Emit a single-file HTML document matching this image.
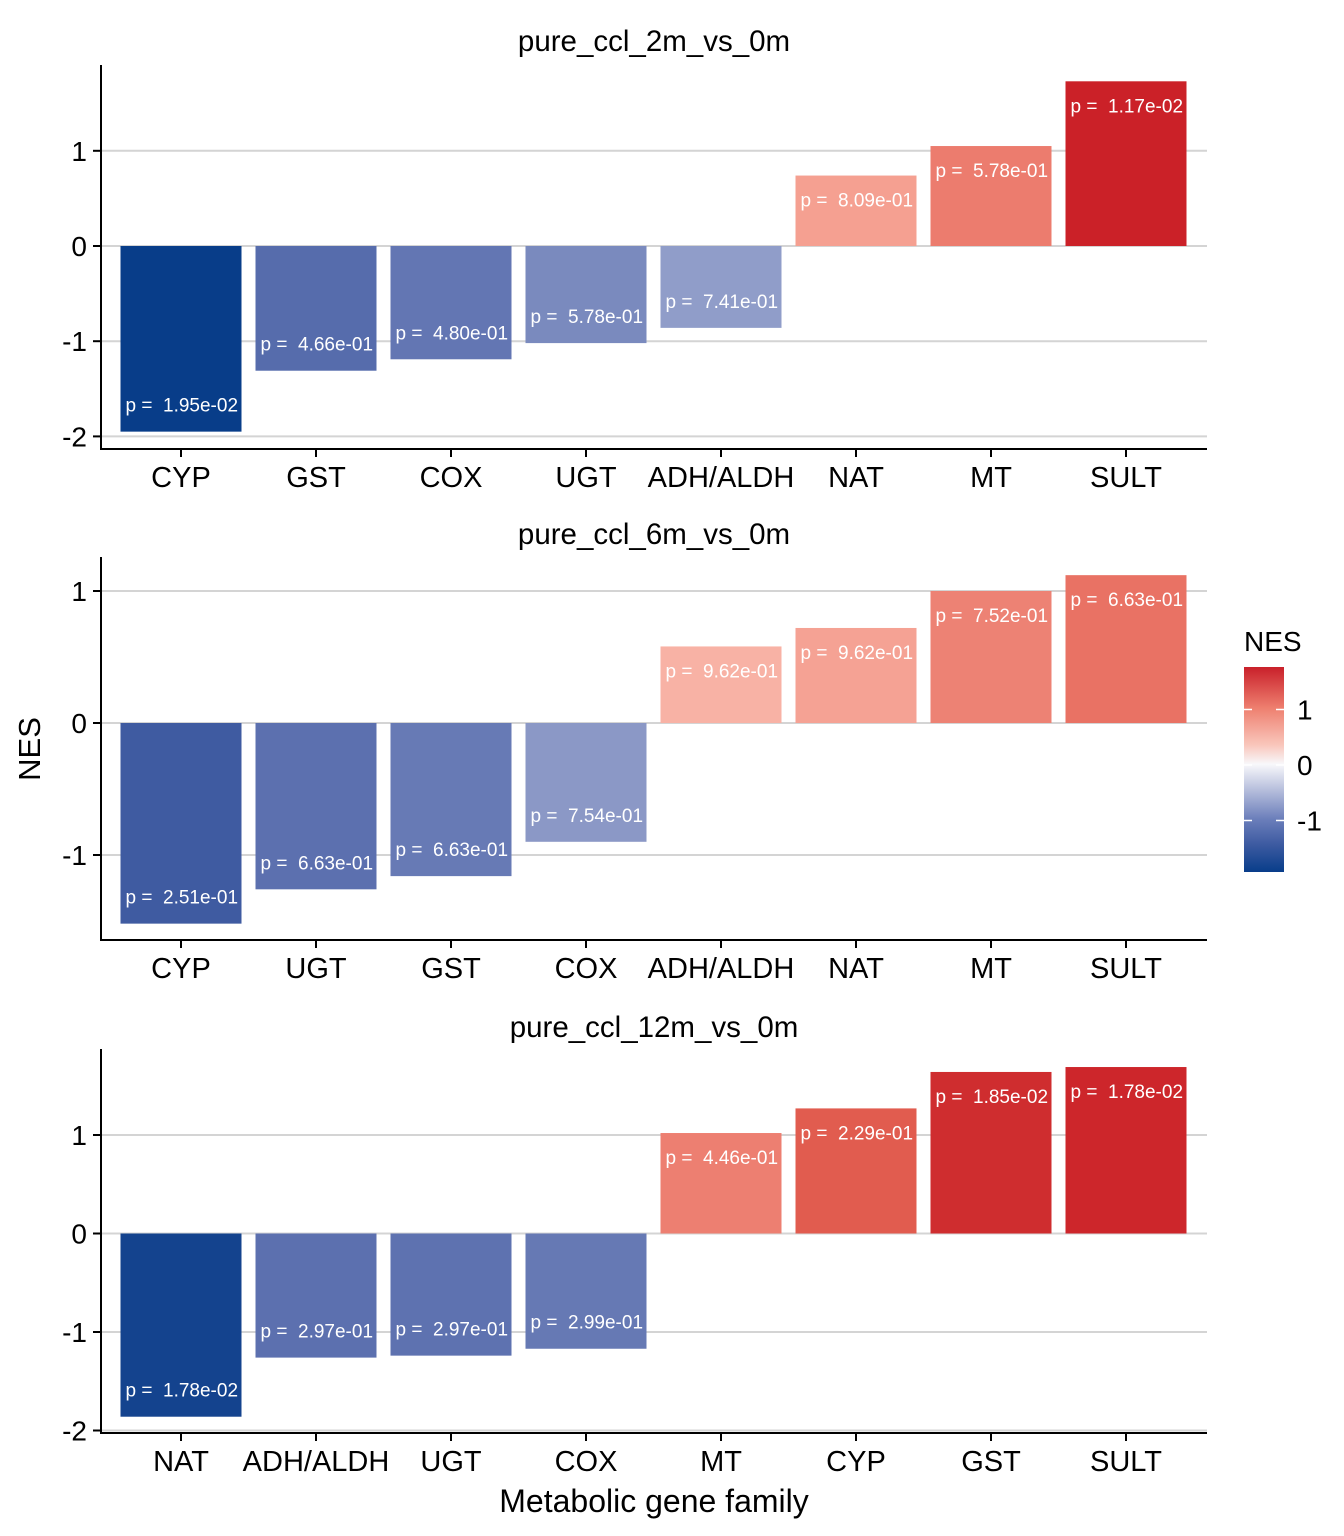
<!DOCTYPE html>
<html><head><meta charset="utf-8"><style>
html,body{margin:0;padding:0;background:#fff}
svg{display:block;font-family:"Liberation Sans",Arial,sans-serif}
text{white-space:pre}
</style></head><body>
<svg id="chart" width="1344" height="1536" viewBox="0 0 1344 1536" xmlns="http://www.w3.org/2000/svg">
<defs>
<linearGradient id="lg" x1="0" y1="1" x2="0" y2="0">
<stop offset="0" stop-color="#083d8a"/>
<stop offset="0.14" stop-color="#3f5ca2"/>
<stop offset="0.26" stop-color="#6c7fbb"/>
<stop offset="0.40" stop-color="#b6bedc"/>
<stop offset="0.526" stop-color="#f8f8fb"/>
<stop offset="0.62" stop-color="#f9c6bb"/>
<stop offset="0.80" stop-color="#ee7f6f"/>
<stop offset="1" stop-color="#c9202a"/>
</linearGradient>
</defs>
<g id="panels"></g>
<text x="32" y="749" font-size="31" text-anchor="middle" transform="rotate(-90 32 749)" dominant-baseline="middle">NES</text>
<text x="654" y="1512" font-size="32" text-anchor="middle">Metabolic gene family</text>
<g>
<text x="1244" y="651" font-size="28">NES</text>
<rect x="1244" y="667" width="40" height="205" fill="url(#lg)"/>
<g id="legticks"></g>
</g>
</svg>
<script>
const panelTitles = ["pure_ccl_2m_vs_0m","pure_ccl_6m_vs_0m","pure_ccl_12m_vs_0m"];
const categories1 = ["CYP","GST","COX","UGT","ADH/ALDH","NAT","MT","SULT"];
const values1 = [-1.95,-1.31,-1.19,-1.02,-0.86,0.74,1.05,1.73];
const pvals1 = ["1.95e-02","4.66e-01","4.80e-01","5.78e-01","7.41e-01","8.09e-01","5.78e-01","1.17e-02"];
const categories2 = ["CYP","UGT","GST","COX","ADH/ALDH","NAT","MT","SULT"];
const values2 = [-1.52,-1.26,-1.16,-0.90,0.58,0.72,1.00,1.12];
const pvals2 = ["2.51e-01","6.63e-01","6.63e-01","7.54e-01","9.62e-01","9.62e-01","7.52e-01","6.63e-01"];
const categories3 = ["NAT","ADH/ALDH","UGT","COX","MT","CYP","GST","SULT"];
const values3 = [-1.86,-1.26,-1.24,-1.17,1.02,1.27,1.64,1.69];
const pvals3 = ["1.78e-02","2.97e-01","2.97e-01","2.99e-01","4.46e-01","2.29e-01","1.85e-02","1.78e-02"];
const ticks1 = [-2,-1,0,1];
const ticks2 = [-1,0,1];
const ticks3 = [-2,-1,0,1];
const legendTicks = [-1,0,1];

const NS="http://www.w3.org/2000/svg";
function mk(tag,attrs,parent){const e=document.createElementNS(NS,tag);for(const k in attrs)e.setAttribute(k,attrs[k]);parent.appendChild(e);return e;}
const cstops=[[-1.95,[8,61,137]],[-1.5,[66,92,162]],[-1.2,[98,117,178]],[-0.86,[144,157,201]],[-0.4,[205,210,230]],[0,[248,248,250]],[0.58,[248,178,165]],[0.74,[245,160,145]],[1.05,[236,124,110]],[1.3,[224,88,75]],[1.73,[203,33,40]]];
function rgb(a){return "rgb("+a.join(",")+")";}
function color(v){if(v<=cstops[0][0])return rgb(cstops[0][1]);for(let i=1;i<cstops.length;i++){if(v<=cstops[i][0]){const a=cstops[i-1],b=cstops[i];const t=(v-a[0])/(b[0]-a[0]);return rgb(a[1].map((c,j)=>Math.round(c+(b[1][j]-c)*t)));}}return rgb(cstops[cstops.length-1][1]);}

const panels=[
 {title:panelTitles[0],cats:categories1,vals:values1,p:pvals1,ticks:ticks1,top:65,bottom:449,zero:246,unit:95.2,titleY:51},
 {title:panelTitles[1],cats:categories2,vals:values2,p:pvals2,ticks:ticks2,top:557,bottom:940,zero:723,unit:132,titleY:544},
 {title:panelTitles[2],cats:categories3,vals:values3,p:pvals3,ticks:ticks3,top:1049,bottom:1433,zero:1233.5,unit:98.5,titleY:1037}
];
const root=document.getElementById('panels');
const x0=101,x1=1207,step=135,bw=121;
panels.forEach((P,pi)=>{
 const g=mk('g',{},root);
 
 
 const y=v=>P.zero-v*P.unit;
 const xc=i=>181+i*step;
 const t=mk('text',{x:654,y:P.titleY,'font-size':29.5,'text-anchor':'middle'},g);t.textContent=P.title;
 
 
 P.ticks.forEach(tv=>{
  const gl=mk('line',{x1:x0,x2:x1,y1:y(tv),y2:y(tv),stroke:'#d4d4d4','stroke-width':2},g);
  
  
  mk('line',{x1:x0-8,x2:x0,y1:y(tv),y2:y(tv),stroke:'#000','stroke-width':2},g);
  const tl=mk('text',{x:x0-14,y:y(tv)+10,'font-size':28,'text-anchor':'end'},g);tl.textContent=tv;
  
  
 });
 P.vals.forEach((v,i)=>{
  const top=Math.min(y(v),y(0)),h=Math.abs(y(v)-y(0));
  const r=mk('rect',{x:xc(i)-bw/2,y:top,width:bw,height:h,fill:color(v)},g);
  
  
  const ly=v>=0?y(v)+31:y(v)-20;
  const lt=mk('text',{x:xc(i)-bw/2+5,y:ly,'font-size':19,fill:'#fff'},g);lt.textContent='p =  '+P.p[i];
  
  
  mk('line',{x1:xc(i),x2:xc(i),y1:P.bottom,y2:P.bottom+8,stroke:'#000','stroke-width':2},g);
  const xl=mk('text',{x:xc(i),y:P.bottom+38,'font-size':29,'text-anchor':'middle'},g);xl.textContent=P.cats[i];
  
  
 });
 mk('line',{x1:x0,x2:x0,y1:P.top,y2:P.bottom+1,stroke:'#000','stroke-width':2},g);
 mk('line',{x1:x0-1,x2:x1,y1:P.bottom,y2:P.bottom,stroke:'#000','stroke-width':2},g);
});
const lgt=document.getElementById('legticks');
legendTicks.forEach(tv=>{
 const yy=765-tv*55.5;
 mk('line',{x1:1244,x2:1252,y1:yy,y2:yy,stroke:'#fff','stroke-width':1.5},lgt);
 mk('line',{x1:1276,x2:1284,y1:yy,y2:yy,stroke:'#fff','stroke-width':1.5},lgt);
 const tl=mk('text',{x:1297,y:yy+10,'font-size':28},lgt);tl.textContent=tv;
 
 
});
</script>
</body></html>
